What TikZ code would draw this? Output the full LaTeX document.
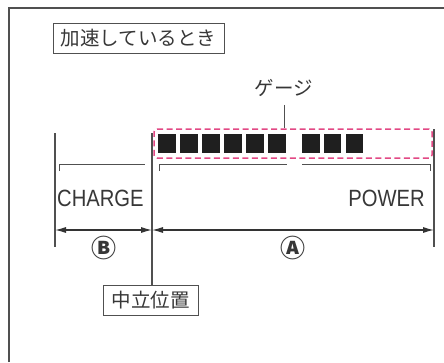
\documentclass[tikz,border=0pt]{standalone}
\usepackage{fontspec}
\setmainfont{Liberation Sans}
\newfontfamily\jpfont{Noto Sans CJK JP}
\newfontfamily\condfont[FakeStretch=0.86]{Liberation Sans}
\usetikzlibrary{arrows.meta, positioning, calc}
\definecolor{gray1}{RGB}{80, 80, 80}
\definecolor{text1}{RGB}{55, 55, 55}
\definecolor{pink1}{RGB}{226, 72, 132}

\begin{document}
\begin{tikzpicture}[x=1pt, y=-1pt,
  tag/.style={draw=gray1, line width=1pt, inner sep=0pt, minimum height=30pt, text=text1, font=\jpfont\fontsize{19.5}{19.5}\selectfont},
  seg/.style={fill=black!88, minimum width=17.7pt, minimum height=19pt, inner sep=0pt},
  word/.style={inner sep=0pt, text=text1, font=\condfont\fontsize{23.5}{23.5}\selectfont},
  circ/.style={inner sep=0pt, text=text1, font=\jpfont\bfseries\fontsize{25}{25}\selectfont},
  thin/.style={draw=gray1, line width=0.8pt},
  dim/.style={draw=black!80, line width=1.2pt, {Latex[length=11pt,width=6pt]}-{Latex[length=11pt,width=6pt]}}]
  \useasboundingbox (0,0) rectangle (444,362);

  % outer frame
  \draw[gray1, line width=1.2pt] (9,362) -- (9,8) -- (444,8);

  % labels
  \node[tag, minimum width=171pt] (title) at (138.5,38) {加速しているとき};
  \node[tag, minimum width=95pt] (neutral) at (150.5,300) {中立位置};
  \node[inner sep=0pt, text=text1, font=\jpfont\fontsize{19.5}{19.5}\selectfont] (glabel) at (284,88) {ゲージ};

  % gauge
  \node[draw=pink1, line width=1.5pt, dash pattern=on 6pt off 3.5pt, rounded corners=3pt,
        minimum width=278pt, minimum height=29pt, inner sep=0pt] (gauge) at (293,143.5) {};
  \foreach \i in {0,...,5}
    \node[seg] (a\i) at ({166.8+22*\i},143.5) {};
  \foreach \i in {0,...,2}
    \node[seg] (b\i) at ({310.8+21.8*\i},143.5) {};
  \draw[gray1, line width=1pt] ($(glabel.south)+(0,8)$) -- (glabel.south |- gauge.north);

  % limits
  \coordinate (cleft) at (55,133);
  \coordinate (czero) at (152,133);
  \coordinate (cright) at (434,129);
  \draw[gray1, line width=1.2pt] (cleft) -- ++(0,114) coordinate (cleftb);
  \draw[gray1, line width=1.2pt] (czero) -- (czero |- neutral.north);
  \draw[gray1, line width=1.2pt] (cright) -- ++(0,118) coordinate (crightb);

  % brackets
  \draw[thin] (59,171) -- (59,164) -- (145,164);
  \draw[thin] (159,171) -- (159,164) -- (287,164);
  \draw[thin] (302,164) -- (430,164) -- (430,171);
  \node[word, anchor=west] (charge) at (57,198) {CHARGE};
  \node[word, anchor=east] (power) at (425,198) {POWER};

  % ranges
  \coordinate (bl) at (cleft |- 0,230);
  \coordinate (bm) at (czero |- 0,230);
  \coordinate (br) at (cright |- 0,230);
  \draw[dim] (bl) -- (bm);
  \draw[dim] (bm) -- (br);
  \node[circ] (rb) at ($(bl)!0.5!(bm)+(0,18)$) {Ⓑ};
  \node[circ] (ra) at ($(bm)!0.5!(br)+(0,18)$) {Ⓐ};
\end{tikzpicture}
\end{document}
